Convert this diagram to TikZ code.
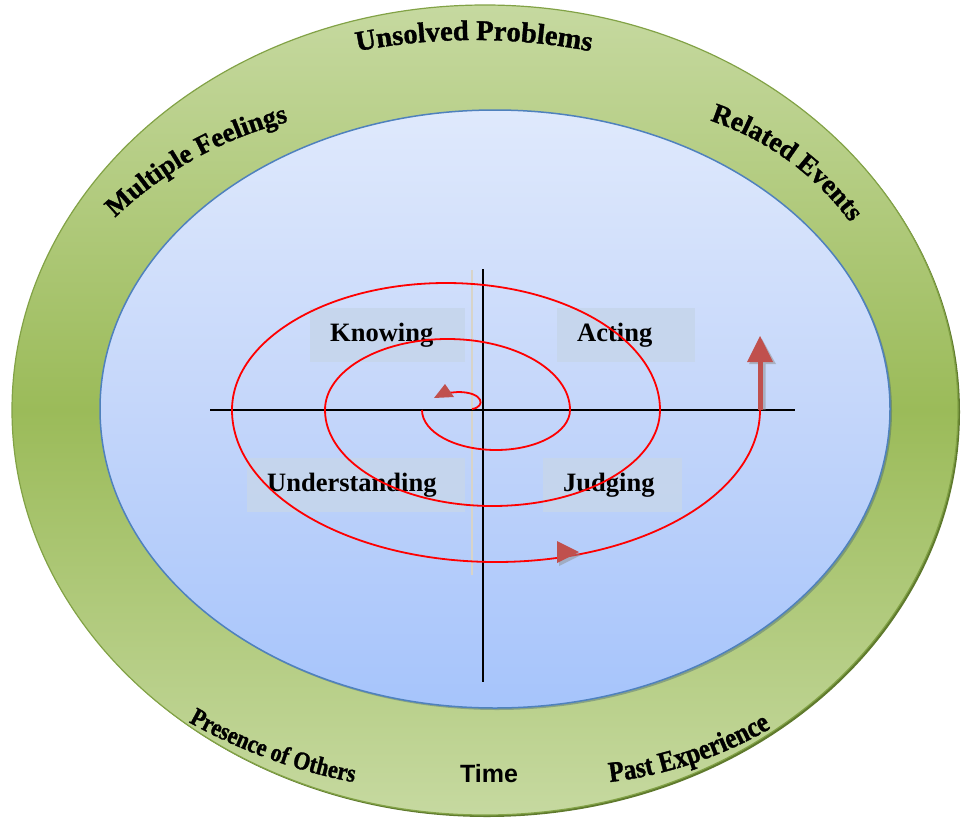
\documentclass[tikz,border=0pt]{standalone}
\usepackage{fontspec}
\setmainfont{Liberation Serif}
\newfontfamily\sansfont{Liberation Sans}
\newfontfamily\arcface{Liberation Serif Bold}[FakeBold=1.2]
\newfontfamily\arccond{Liberation Serif Bold}[FakeBold=1.2, FakeStretch=0.86]
\usetikzlibrary{decorations.text}
\definecolor{ringlight}{RGB}{198,217,160}
\definecolor{ringdark}{RGB}{155,187,89}
\definecolor{ringedge}{RGB}{130,162,70}
\definecolor{ringshadow}{RGB}{95,122,45}
\definecolor{innertop}{RGB}{223,233,252}
\definecolor{innermid}{RGB}{196,214,250}
\definecolor{innerbot}{RGB}{166,196,251}
\definecolor{inneredge}{RGB}{79,129,189}
\definecolor{boxfill}{RGB}{198,214,236}
\definecolor{spiralred}{RGB}{255,0,0}
\definecolor{arrowred}{RGB}{192,80,77}
\definecolor{guidegrey}{RGB}{216,212,200}
\newcommand\arcfont[1]{\arcface\fontsize{#1}{#1}\selectfont}
\newcommand\arcfontc[1]{\arccond\fontsize{#1}{#1}\selectfont}
\begin{document}
\begin{tikzpicture}[x=1pt,y=-1pt,
  lbox/.style={fill=boxfill, fill opacity=0.9, text opacity=1, inner xsep=20pt, inner ysep=0pt,
    minimum height=54pt, align=left, anchor=west, font=\fontsize{26.5}{30}\selectfont\bfseries},
  axis/.style={draw=black, line width=1.8pt},
  spiral/.style={draw=spiralred, line width=1.8pt},
  headred/.style={fill=arrowred},
  headshadow/.style={fill=black!45, opacity=0.5}]
\useasboundingbox (0,0) rectangle (961,817);
% outer ring
\fill[ringshadow] (487,412) ellipse[x radius=473, y radius=405];
\shade[top color=ringlight, bottom color=ringlight, middle color=ringdark, draw=ringedge, line width=1.2pt]
  (485,410) ellipse[x radius=473, y radius=405];
% inner ellipse
\fill[inneredge!60!black, opacity=0.35] (497,411) ellipse[x radius=395, y radius=299];
\shade[top color=innertop, bottom color=innerbot, middle color=innermid, draw=inneredge, line width=1.5pt]
  (495,409) ellipse[x radius=395, y radius=299];
% guide line
\draw[guidegrey, line width=1.5pt] (472,270) -- (472,575);
% label boxes
\node[lbox, text width=115pt] (knowing) at (310,335) {Knowing};
\node[lbox, text width=98pt] (acting) at (557,335) {Acting};
\node[lbox, text width=178pt] (understanding) at (247,485) {Understanding};
\node[lbox, text width=99pt] (judging) at (543,485) {Judging};
% axes
\coordinate (xl) at (210,410); \coordinate (xr) at (795,410);
\coordinate (yt) at (483,269); \coordinate (yb) at (483,682);
\draw[axis] (xl) -- (xr);
\draw[axis] (yt) -- (yb);
% spiral
\coordinate (loopstart) at (472,409);
\coordinate (spiralstart) at (422,410);
\coordinate (spiralend) at (760,410);
\coordinate (arrowtip) at (760,336);
\draw[spiral] (loopstart) .. controls (486,407) and (484,392) .. (458,392) -- (446,393);
\fill[headred] (445,384) -- (434,398) -- (454,397) -- cycle;
\draw[spiral] (spiralstart)
  arc[start angle=180, end angle=0, x radius=74, y radius=40]
  arc[start angle=0, end angle=-180, x radius=122.5, y radius=71]
  arc[start angle=180, end angle=0, x radius=167.5, y radius=96]
  arc[start angle=0, end angle=-180, x radius=214, y radius=127]
  arc[start angle=180, end angle=0, x radius=264, y radius=152];
% bottom arrowhead
\fill[headshadow] (559,544) -- (581,555) -- (559,566) -- cycle;
\fill[headred] (557,541) -- (579,552) -- (557,563) -- cycle;
% end arrow
\fill[headshadow] (759.5,410) -- (759.5,364) -- (749,364) -- (762,339) -- (776,364) -- (765.5,364) -- (765.5,410) -- cycle;
\draw[arrowred, line width=5pt] (spiralend) -- (760,358);
\fill[headred] (arrowtip) -- (773,362) -- (747,362) -- cycle;
% curved labels
\path[decorate, decoration={text along path, text align=center,
  text={|\arcfont{28.5}|Unsolved Problems}}]
  ({474+607*cos(256)},{647+607*sin(256)}) arc[start angle=256, end angle=284, radius=607];
\path[decorate, decoration={text along path, text align=center,
  text={|\arcfont{27}|Multiple Feelings}}]
  ({383+387*cos(218)},{497+387*sin(218)}) arc[start angle=218, end angle=264, radius=387];
\path[decorate, decoration={text along path, text align=center,
  text={|\arcfont{27.5}|Related Events}}]
  ({620+286*cos(278)},{392+286*sin(278)}) arc[start angle=278, end angle=334, radius=286];
\path[decorate, decoration={text along path, text align=center,
  text={|\arcfontc{25.5}|Presence of Others}}]
  ({457+550*cos(130)},{242+550*sin(130)}) arc[start angle=130, end angle=90, radius=550];
\path[decorate, decoration={text along path, text align=center,
  text={|\arcfontc{29}|Past Experience}}]
  ({560+420*cos(98)},{365+420*sin(98)}) arc[start angle=98, end angle=45, radius=420];
\node[font=\sansfont\fontsize{25}{28}\selectfont\bfseries] (time) at (489,774) {Time};
\end{tikzpicture}
\end{document}
